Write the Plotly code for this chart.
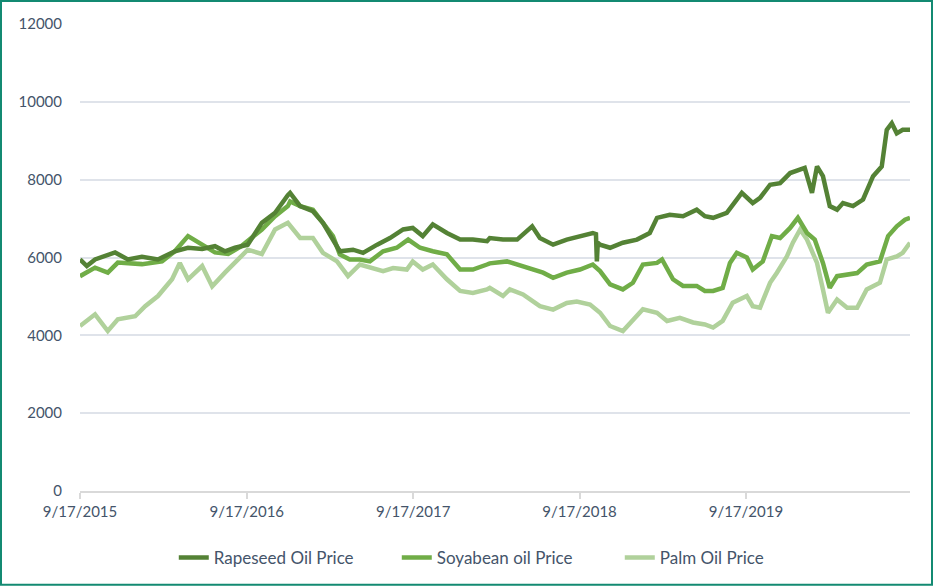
import plotly.graph_objects as go

# ---------------- data ----------------
rape_dates = ["2015-09-17", "2015-10-02", "2015-10-20", "2015-12-03", "2015-12-31", "2016-01-31", "2016-03-06",
              "2016-04-12", "2016-05-11", "2016-06-11", "2016-07-09", "2016-07-31", "2016-08-22", "2016-09-19",
              "2016-10-20", "2016-11-18", "2016-12-16", "2016-12-21", "2017-01-12", "2017-02-09", "2017-03-03",
              "2017-03-25", "2017-04-09", "2017-05-08", "2017-05-30", "2017-06-30", "2017-07-28", "2017-08-26",
              "2017-09-16", "2017-10-08", "2017-10-30", "2017-11-30", "2017-12-29", "2018-01-26", "2018-02-26",
              "2018-03-04", "2018-04-02", "2018-05-03", "2018-06-05", "2018-06-22", "2018-07-21", "2018-08-20",
              "2018-09-18", "2018-10-16", "2018-10-23", "2018-10-25", "2018-10-27", "2018-11-01", "2018-11-23",
              "2018-12-21", "2019-01-21", "2019-02-18", "2019-03-06", "2019-04-03", "2019-05-02", "2019-06-01",
              "2019-06-19", "2019-07-07", "2019-08-06", "2019-08-19", "2019-09-08", "2019-10-02", "2019-10-18",
              "2019-11-09", "2019-12-01", "2019-12-23", "2020-01-14", "2020-01-24", "2020-02-09", "2020-02-20",
              "2020-03-04", "2020-03-19", "2020-04-04", "2020-04-17", "2020-05-09", "2020-05-31", "2020-06-22",
              "2020-07-11", "2020-07-22", "2020-08-02", "2020-08-13", "2020-08-26", "2020-09-11"]
rape_values = [5950, 5780, 5950, 6130, 5950, 6020, 5950,
               6160, 6250, 6220, 6290, 6160, 6250, 6330,
               6890, 7150, 7600, 7660, 7320, 7190, 6890,
               6460, 6160, 6200, 6120, 6330, 6500, 6720,
               6760, 6550, 6850, 6630, 6460, 6460, 6420,
               6500, 6460, 6460, 6800, 6500, 6330, 6460,
               6550, 6630, 6600, 5900, 6380, 6330, 6250,
               6380, 6460, 6630, 7020, 7100, 7060, 7230,
               7060, 7020, 7150, 7360, 7660, 7400, 7530,
               7870, 7910, 8170, 8260, 8300, 7660, 8340,
               8090, 7320, 7230, 7400, 7320, 7490, 8090,
               8340, 9280, 9450, 9190, 9280, 9280]

soy_dates = ["2015-09-17", "2015-10-20", "2015-11-17", "2015-12-09", "2016-01-31", "2016-03-15", "2016-04-12",
             "2016-05-11", "2016-06-11", "2016-07-09", "2016-08-07", "2016-09-06", "2016-10-20", "2016-11-18",
             "2016-12-16", "2016-12-21", "2017-01-12", "2017-02-09", "2017-03-03", "2017-03-25", "2017-04-09",
             "2017-05-01", "2017-05-23", "2017-06-14", "2017-07-13", "2017-08-12", "2017-09-06", "2017-10-02",
             "2017-10-30", "2017-11-30", "2017-12-29", "2018-01-26", "2018-02-26", "2018-03-04", "2018-04-11",
             "2018-05-03", "2018-05-31", "2018-06-29", "2018-07-21", "2018-08-20", "2018-09-18", "2018-10-16",
             "2018-11-01", "2018-11-23", "2018-12-21", "2019-01-12", "2019-02-03", "2019-03-06", "2019-03-17",
             "2019-04-10", "2019-05-02", "2019-06-01", "2019-06-19", "2019-07-07", "2019-07-28", "2019-08-13",
             "2019-08-28", "2019-09-19", "2019-10-02", "2019-10-24", "2019-11-13", "2019-12-01", "2019-12-23",
             "2020-01-09", "2020-01-29", "2020-02-15", "2020-03-04", "2020-03-19", "2020-04-04", "2020-04-26",
             "2020-05-18", "2020-06-08", "2020-07-07", "2020-07-25", "2020-08-13", "2020-08-31", "2020-09-11"]
soy_values = [5520, 5740, 5610, 5870, 5830, 5900, 6160,
              6550, 6330, 6130, 6090, 6300, 6720, 7060,
              7320, 7440, 7320, 7230, 6890, 6550, 6080,
              5950, 5950, 5900, 6160, 6250, 6460, 6250,
              6160, 6080, 5690, 5690, 5820, 5850, 5900,
              5820, 5730, 5610, 5480, 5610, 5690, 5820,
              5650, 5310, 5180, 5350, 5820, 5860, 5950,
              5440, 5270, 5270, 5140, 5140, 5220, 5860,
              6120, 6000, 5690, 5900, 6550, 6500, 6760,
              7020, 6630, 6460, 5860, 5220, 5520, 5560,
              5600, 5820, 5900, 6550, 6800, 6970, 7020]

palm_dates = ["2015-09-17", "2015-10-20", "2015-11-17", "2015-12-09", "2016-01-16", "2016-02-07", "2016-03-06",
              "2016-04-06", "2016-04-23", "2016-05-11", "2016-06-11", "2016-07-03", "2016-07-31", "2016-08-22",
              "2016-09-19", "2016-10-20", "2016-11-18", "2016-12-16", "2017-01-12", "2017-02-09", "2017-03-03",
              "2017-04-03", "2017-04-27", "2017-05-23", "2017-06-21", "2017-07-13", "2017-08-04", "2017-09-03",
              "2017-09-16", "2017-10-08", "2017-10-30", "2017-11-30", "2017-12-29", "2018-01-26", "2018-02-26",
              "2018-03-04", "2018-04-02", "2018-04-17", "2018-05-16", "2018-06-22", "2018-07-21", "2018-08-20",
              "2018-09-11", "2018-10-10", "2018-11-01", "2018-11-23", "2018-12-21", "2019-01-12", "2019-02-03",
              "2019-03-06", "2019-03-28", "2019-04-25", "2019-05-24", "2019-06-19", "2019-07-07", "2019-07-28",
              "2019-08-19", "2019-09-19", "2019-10-02", "2019-10-18", "2019-11-09", "2019-11-24", "2019-12-16",
              "2019-12-29", "2020-01-14", "2020-01-29", "2020-02-20", "2020-03-04", "2020-03-15", "2020-04-04",
              "2020-04-26", "2020-05-18", "2020-06-08", "2020-07-07", "2020-07-22", "2020-08-13", "2020-08-26",
              "2020-09-11"]
palm_values = [4240, 4540, 4110, 4410, 4490, 4750, 5010,
               5440, 5860, 5440, 5780, 5260, 5610, 5860,
               6200, 6090, 6720, 6890, 6500, 6500, 6120,
               5900, 5520, 5820, 5730, 5650, 5730, 5690,
               5900, 5690, 5820, 5440, 5140, 5090, 5180,
               5220, 5010, 5180, 5050, 4750, 4660, 4830,
               4870, 4790, 4580, 4240, 4110, 4410, 4670,
               4580, 4370, 4450, 4330, 4280, 4200, 4370,
               4840, 5010, 4750, 4710, 5350, 5610, 6030,
               6380, 6720, 6460, 5860, 5180, 4580, 4920,
               4710, 4710, 5180, 5350, 5950, 6030, 6120,
               6380]

series_names = ["Rapeseed Oil Price", "Soyabean oil Price", "Palm Oil Price"]
x_tick_dates = ["2015-09-17", "2016-09-17", "2017-09-17", "2018-09-17", "2019-09-17"]
x_tick_labels = ["9/17/2015", "9/17/2016", "9/17/2017", "9/17/2018", "9/17/2019"]
y_ticks = [0, 2000, 4000, 6000, 8000, 10000, 12000]
y_tick_labels = ["0", "2000", "4000", "6000", "8000", "10000", "12000"]

# ---------------- figure ----------------
colors = ["#548235", "#70ad47", "#b0d19b"]
FONT = "Lato, 'Open Sans', sans-serif"
TEXT = "#44546a"

traces = []
for name, xs, ys, c in zip(series_names,
                           [rape_dates, soy_dates, palm_dates],
                           [rape_values, soy_values, palm_values],
                           colors):
    traces.append(go.Scatter(x=xs, y=ys, mode="lines", name=name,
                             line=dict(color=c, width=4.5)))

# palm drawn first (bottom), rapeseed on top
fig = go.Figure(data=traces[::-1])

W, H = 933, 587
L, R, T, B = 80, 23, 24, 95
pw, ph = W - L - R, H - T - B

fig.update_layout(
    width=W, height=H,
    margin=dict(l=L, r=R, t=T, b=B),
    paper_bgcolor="white", plot_bgcolor="white",
    font=dict(family=FONT, size=15, color=TEXT),
    showlegend=True,
    legend=dict(orientation="h", x=0.516, xanchor="center", y=-0.141, yanchor="middle",
                traceorder="reversed", font=dict(family=FONT, size=17, color=TEXT),
                entrywidth=178, entrywidthmode="pixels"),
    xaxis=dict(type="date", range=["2015-09-17", "2020-09-11"],
               tickmode="array", tickvals=x_tick_dates, ticktext=x_tick_labels,
               showgrid=False, zeroline=False,
               showline=True, linecolor="#d9d9d9", linewidth=2,
               ticks="outside", ticklen=6, tickcolor="#d9d9d9", tickwidth=1.5,
               tickfont=dict(family=FONT, size=15, color=TEXT)),
    yaxis=dict(range=[0, 12000], tickmode="array", tickvals=y_ticks, ticktext=y_tick_labels,
               showgrid=True, gridcolor="#dfe3ea", gridwidth=1.5,
               zeroline=False, showline=False,
               ticks="outside", ticklen=14, tickcolor="rgba(0,0,0,0)",
               tickfont=dict(family=FONT, size=15, color=TEXT)),
    shapes=[dict(type="rect", xref="paper", yref="paper",
                 x0=(1 - L) / pw, x1=(W - 1 - L) / pw,
                 y0=(T + ph - (H - 1)) / ph, y1=(T + ph - 1) / ph,
                 line=dict(color="#138a72", width=2), fillcolor="rgba(0,0,0,0)",
                 layer="above")],
)

fig.write_html("out.html", config={"displayModeBar": False},
               post_script="document.body.style.margin='0';")
